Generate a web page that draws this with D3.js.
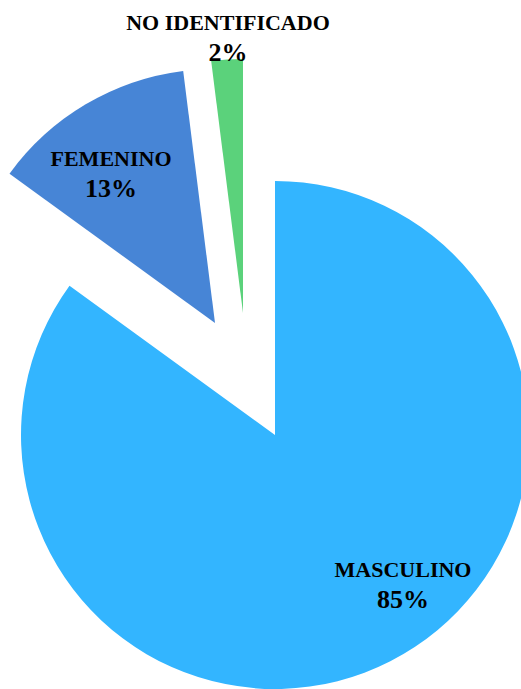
<!DOCTYPE html>
<html>
<head>
<meta charset="utf-8">
<script src="https://cdn.jsdelivr.net/npm/d3@7"></script>
<style>
    html, body { margin: 0; padding: 0; background: #fff; overflow: hidden; }
    svg { display: block; }
</style>
</head>
<body>
<div id="chart"></div>
<script>
    // data
    var categories = ["MASCULINO", "FEMENINO", "NO IDENTIFICADO"];
    var values = [85, 13, 2];
    var pctLabels = ["85%", "13%", "2%"];

    var colors = ["#33b5ff", "#4785d6", "#5bd27b"];
    // how far each slice is pulled out of the pie (px)
    var explode = [[0, 0], [-60, -112], [-32, -122]];
    // where the two-line labels sit (centre x, baseline of first line)
    var labelPos = [[403, 577], [111, 166], [228, 30]];

    var vWidth = 521, vHeight = 689;
    var cx = 275, cy = 435, radius = 254;

    var svg = d3.select("#chart").append("svg")
        .attr("width", vWidth)
        .attr("height", vHeight);

    var pie = d3.pie().sort(null).value(function (d) { return d; });
    var arc = d3.arc().innerRadius(0).outerRadius(radius);

    var arcs = pie(values);

    var g = svg.append("g").attr("transform", "translate(" + cx + "," + cy + ")");

    g.selectAll("path").data(arcs).enter().append("path")
        .attr("d", arc)
        .attr("fill", function (d, i) { return colors[i]; })
        .attr("transform", function (d, i) {
            return "translate(" + explode[i][0] + "," + explode[i][1] + ")";
        });

    var labels = svg.selectAll("text.lbl").data(categories).enter().append("text")
        .attr("class", "lbl")
        .attr("text-anchor", "middle")
        .attr("font-family", "'Liberation Serif', 'DejaVu Serif', serif")
        .attr("font-weight", "bold")
        .attr("font-size", 22)
        .attr("fill", "#000")
        .attr("x", function (d, i) { return labelPos[i][0]; })
        .attr("y", function (d, i) { return labelPos[i][1]; });

    labels.append("tspan")
        .attr("x", function (d, i) { return labelPos[i][0]; })
        .text(function (d) { return d; });
    labels.append("tspan")
        .attr("x", function (d, i) { return labelPos[i][0]; })
        .attr("dy", 31)
        .attr("font-size", 26)
        .text(function (d, i) { return pctLabels[i]; });
</script>
</body>
</html>
